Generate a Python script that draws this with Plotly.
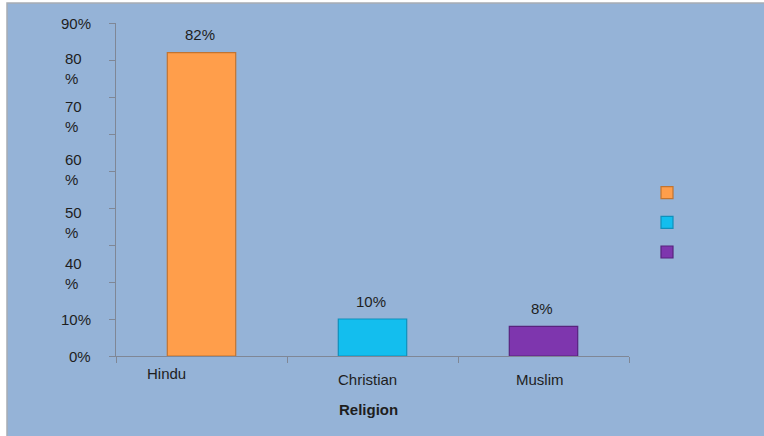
import plotly.graph_objects as go

# Religion share of respondents (%)
religions = ["Hindu", "Christian", "Muslim"]
shares = [82, 10, 8]
bar_colors = ["#FF9E4B", "#13BEEE", "#7E36AE"]
bar_edges = ["#C27430", "#1090BB", "#58237E"]

# Axis ticks and the y labels as they are printed beside the axis
y_ticks = [0, 10, 20, 30, 40, 50, 60, 70, 80, 90]
y_label_text = ["90%", "80<br>%", "70<br>%", "60<br>%", "50<br>%", "40<br>%", "10%", "0%"]
y_label_pos = [90, 77.8, 64.6, 50.4, 36.2, 22.2, 10, 0]

x_title = "Religion"

# Figure geometry in pixels
W, H = 764, 436
L, R, T, B = 116, 629, 23, 356
BG = "#95B3D7"
AXIS = "#7F8796"
TXT = "#1E1E1E"
FONT = "Liberation Sans, Arial, sans-serif"
FS = 15


def px_x(p):
    return (p - L) / (R - L)


def px_y(p):
    return (B - p) / (B - T)


fig = go.Figure()
for name, val, col, edge in zip(religions, shares, bar_colors, bar_edges):
    fig.add_trace(go.Bar(
        x=[name], y=[val], name=" ", width=0.4,
        marker=dict(color=col, line=dict(color=edge, width=1.2)),
        legendgroup=name, hoverinfo="skip",
    ))

annotations = []
# value labels above the bars
for name, val in zip(religions, shares):
    annotations.append(dict(
        x=name, y=val, xref="x", yref="y", text=f"{val}%", showarrow=False,
        yanchor="middle", yshift=18, xshift=-2,
        font=dict(size=FS, color=TXT, family=FONT)))

# category labels under the axis
cat_shift = {"Hindu": (-35, -17), "Christian": (-5, -23), "Muslim": (-4, -23)}
for name in religions:
    dx, dy = cat_shift[name]
    annotations.append(dict(
        x=name, y=0, xref="x", yref="y", text=name, showarrow=False,
        yanchor="middle", xshift=dx, yshift=dy,
        font=dict(size=FS, color=TXT, family=FONT)))

# axis title
annotations.append(dict(
    x="Christian", y=0, xref="x", yref="y", text=f"<b>{x_title}</b>",
    showarrow=False, yanchor="middle", xshift=-4, yshift=-53,
    font=dict(size=FS, color=TXT, family=FONT)))

# y tick labels
for txt, pos in zip(y_label_text, y_label_pos):
    multi = "<br>" in txt
    annotations.append(dict(
        x=px_x(63) if multi else px_x(93), y=pos, xref="paper", yref="y",
        text=txt, showarrow=False, align="left",
        xanchor="left" if multi else "right", yanchor="middle",
        font=dict(size=FS, color=TXT, family=FONT)))

fig.update_layout(
    width=W, height=H,
    margin=dict(l=L, r=W - R, t=T, b=H - B, pad=0),
    paper_bgcolor="white", plot_bgcolor=BG,
    barmode="overlay", showlegend=True,
    font=dict(family=FONT, color=TXT, size=14),
    legend=dict(x=px_x(647), y=px_y(177), xanchor="left", yanchor="top",
                bgcolor="rgba(0,0,0,0)", tracegroupgap=8.5,
                font=dict(size=14), itemwidth=30),
    annotations=annotations,
    shapes=[dict(type="rect", xref="paper", yref="paper", layer="below",
                 x0=px_x(7), x1=px_x(770), y0=px_y(440), y1=px_y(3),
                 fillcolor=BG, line=dict(color="#A8ADB4", width=1.5))],
)
fig.update_xaxes(type="category", categoryorder="array", categoryarray=religions,
                 range=[-0.5, 2.5], showgrid=False, zeroline=False,
                 showline=True, linecolor=AXIS, linewidth=1,
                 ticks="outside", tickson="boundaries", ticklen=6,
                 tickcolor=AXIS, showticklabels=False, fixedrange=True)
fig.update_yaxes(range=[0, 90], tickvals=y_ticks, showgrid=False, zeroline=False,
                 showline=True, linecolor=AXIS, linewidth=1,
                 ticks="outside", ticklen=6, tickcolor=AXIS,
                 showticklabels=False, fixedrange=True)

fig.write_html("out.html", config={"displayModeBar": False})
